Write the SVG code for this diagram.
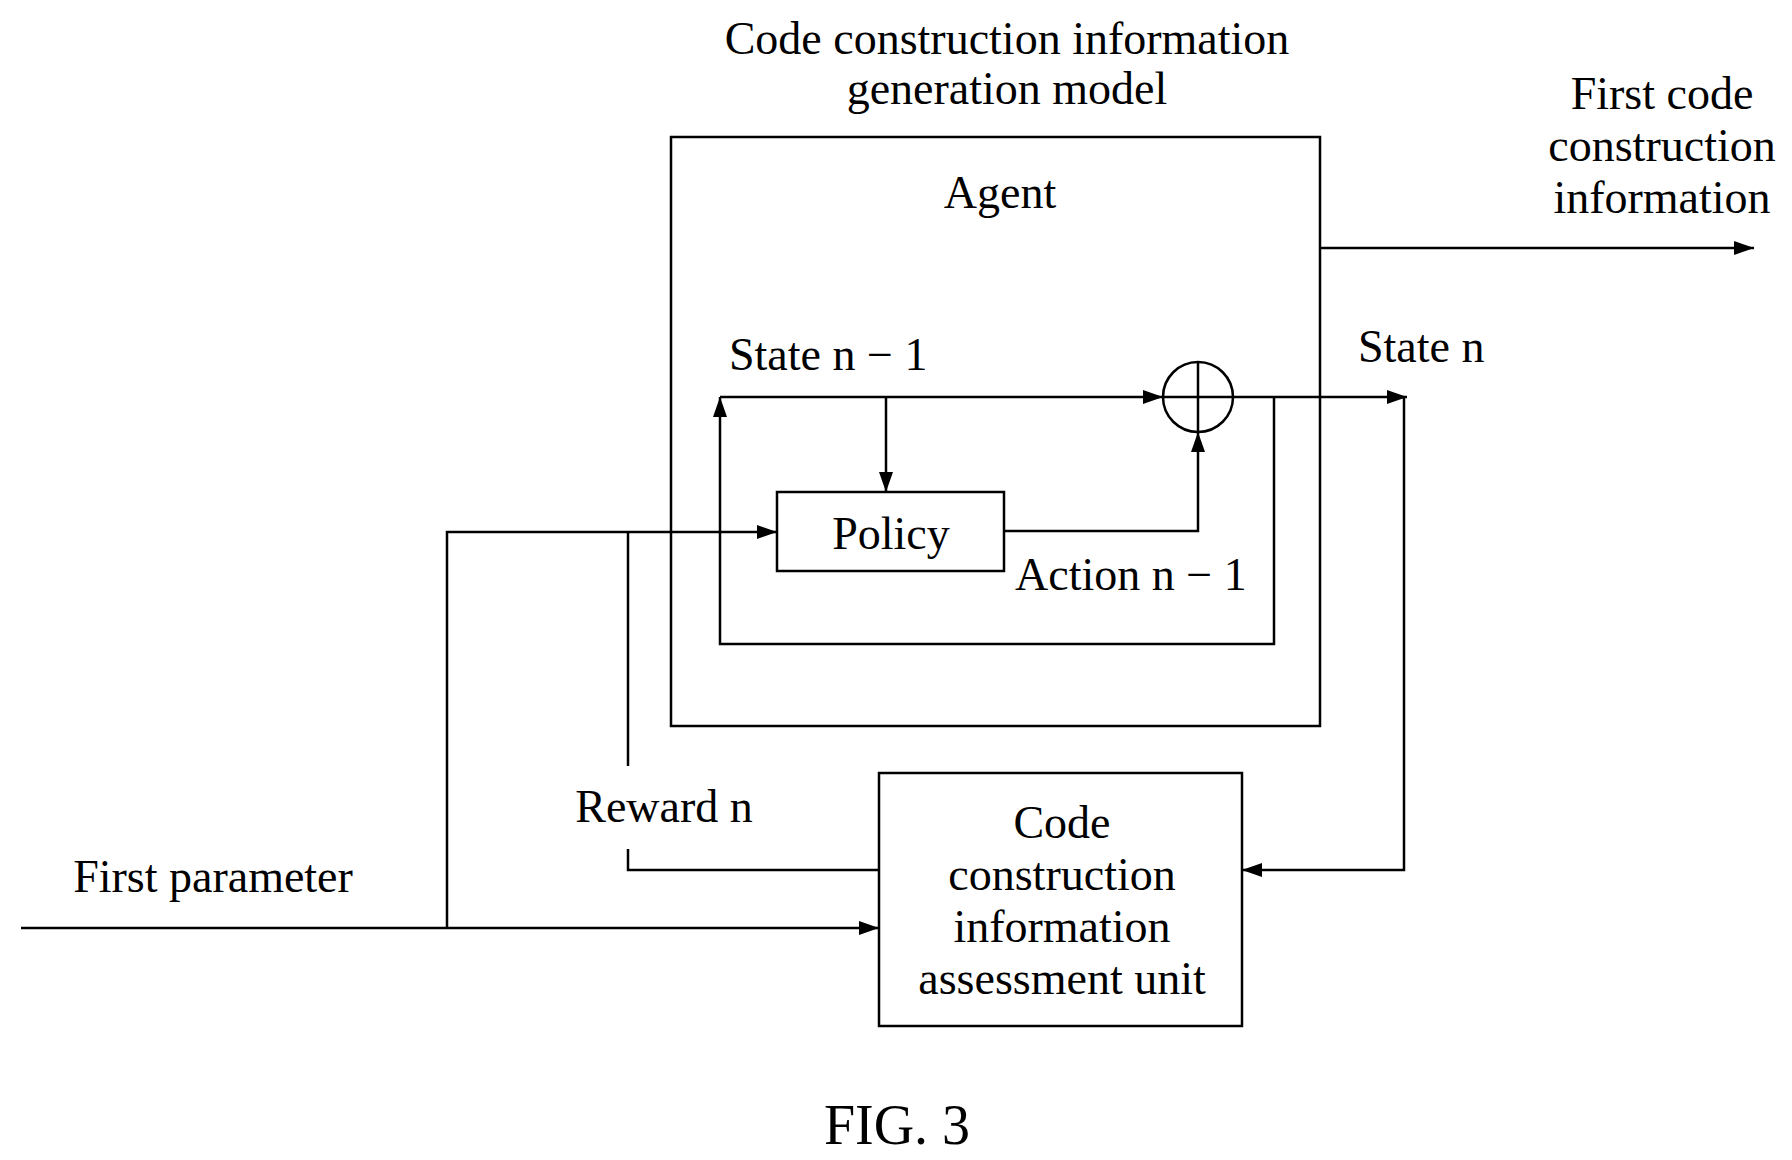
<svg xmlns="http://www.w3.org/2000/svg" width="1792" height="1160" viewBox="0 0 1792 1160">
<style>
text{font-family:"Liberation Serif","Times New Roman",serif;font-size:46px;fill:#000}
.c{text-anchor:middle}
.b{fill:none;stroke:#000;stroke-width:2.5}
.l{fill:none;stroke:#000;stroke-width:2.5}
.a{marker-end:url(#ar)}
</style>
<defs>
<marker id="ar" viewBox="0 0 20 14" refX="20" refY="7" markerWidth="20" markerHeight="14" markerUnits="userSpaceOnUse" orient="auto">
<path d="M0,0 L20,7 L0,14 Z" fill="#000"/>
</marker>
</defs>
<rect width="1792" height="1160" fill="#fff"/>
<g id="model">
<rect class="b" x="671" y="137" width="649" height="589"/>
<text class="c" x="1007" y="54">Code construction information</text>
<text class="c" x="1007" y="104">generation model</text>
<text class="c" x="1000" y="208">Agent</text>
</g>
<g id="policy">
<rect class="b" x="777" y="492" width="227" height="79"/>
<text class="c" x="891" y="549">Policy</text>
</g>
<g id="sum">
<circle class="b" cx="1198" cy="397" r="35"/>
<path class="l" d="M1163,397H1233M1198,362V432"/>
</g>
<g id="assess">
<rect class="b" x="879" y="773" width="363" height="253"/>
<text class="c" x="1062" y="838">Code</text>
<text class="c" x="1062" y="890">construction</text>
<text class="c" x="1062" y="942">information</text>
<text class="c" x="1062" y="994">assessment unit</text>
</g>
<g id="labels">
<text x="729" y="370">State n − 1</text>
<text x="1358" y="362">State n</text>
<text x="1015" y="590">Action n − 1</text>
<text class="c" x="664" y="822">Reward n</text>
<text class="c" x="213" y="892">First parameter</text>
<text class="c" x="1662" y="109">First code</text>
<text class="c" x="1662" y="161">construction</text>
<text class="c" x="1662" y="213">information</text>
<text class="c" x="897" y="1144" style="font-size:56px">FIG. 3</text>
</g>
<g id="connectors">
<path class="l a" d="M1320,248H1754"/>
<path class="l a" d="M720,397H1163"/>
<path class="l a" d="M1233,397H1407"/>
<path class="l a" d="M886,397V492"/>
<path class="l a" d="M1004,531H1198V432"/>
<path class="l a" d="M1274,397V644H720V397"/>
<path class="l a" d="M447,928V532H777"/>
<path class="l" d="M628,532V766"/>
<path class="l a" d="M21,928H879"/>
<path class="l" d="M628,849V870H879"/>
<path class="l a" d="M1404,397V870H1242"/>
</g>
</svg>
